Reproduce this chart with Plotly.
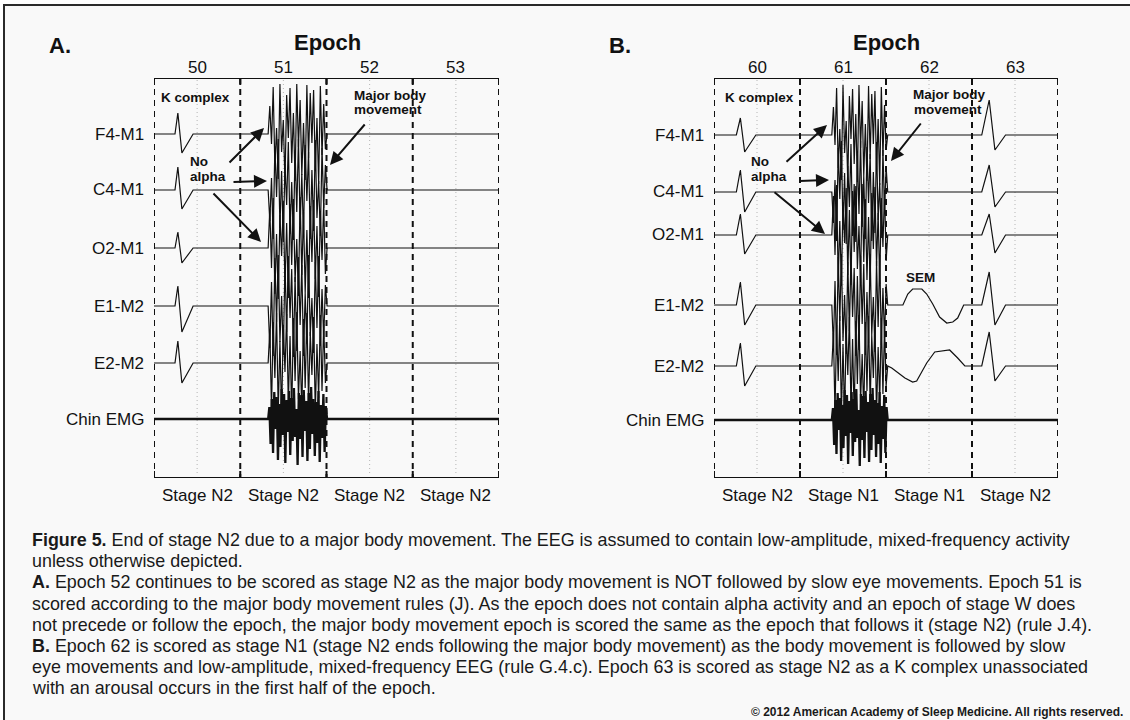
import plotly.graph_objects as go

W, H = 1130, 720

# ---------------------------------------------------------------- data
EPOCH_LEN = 30  # seconds per epoch
EPOCHS_A = ["50", "51", "52", "53"]
EPOCHS_B = ["60", "61", "62", "63"]
STAGES_A = ["Stage N2", "Stage N2", "Stage N2", "Stage N2"]
STAGES_B = ["Stage N2", "Stage N1", "Stage N1", "Stage N2"]
CHANNELS = ["F4-M1", "C4-M1", "O2-M1", "E1-M2", "E2-M2", "Chin EMG"]

# K complex timing (s within the 4-epoch window): onset, peak, trough, return
KC_T_A = [7.3, 8.3, 9.7, 13.6]
KC_T_B1 = [7.8, 9.2, 10.7, 14.6]
KC_T_B2 = [93.4, 96.0, 98.0, 101.7]
# K complex amplitudes (F4, C4, O2, E1, E2)
KC_PEAK_A = [21, 23, 16, 20, 22]
KC_TROUGH_A = [-19, -19, -15, -26, -20]
KC_PEAK_B1 = [17, 22, 21, 23, 23]
KC_TROUGH_B1 = [-17, -20, -19, -20, -20]
KC_PEAK_B2 = [35, 27, 21, 33, 34]
KC_TROUGH_B2 = [-15, -15, -18, -20, -15]

# major body movement span (s)
MBM_A = [39.7, 60.2]
MBM_B = [41.1, 60.6]

# movement artefact samples per channel
BURST_F4 = [0, 28, -10, 47, -33, 6, -45, 50, -18, 14, -48, 39, -4, 46, -29, 21, -47, 50, -13, 34,
            -41, 11, -46, 49, -24, 41, -9, 44, -37, 16, -50, 48, -21, 30, -15, 0]
BURST_C4 = [0, -31, 12, -49, 44, -7, 51, -38, 19, -52, 26, -15, 48, -44, 8, -50, 40, -22, 51, -35,
            16, -47, 45, -11, 38, -49, 20, -41, 50, -28, 9, -46, 42, -18, 25, 0]
BURST_O2 = [0, 39, -20, 50, -46, 14, -51, 33, -8, 47, -40, 25, -50, 44, -17, 49, -34, 9, -48, 51,
            -27, 36, -45, 18, -50, 42, -14, 48, -31, 22, -49, 37, -12, 45, -26, 0]
BURST_E1 = [0, -42, 24, -50, 48, -16, 51, -36, 10, -49, 43, -26, 50, -12, 37, -51, 29, -45, 49, -19,
            41, -50, 13, -38, 51, -30, 8, -47, 44, -22, 50, -40, 17, -33, 21, 0]
BURST_E2 = [0, 33, -47, 41, -15, 50, -49, 22, -52, 38, -9, 49, -42, 27, -51, 45, -18, 51, -36, 12,
            -48, 44, -25, 50, -40, 31, -12, 46, -50, 19, -35, 48, -28, 39, -20, 0]
BURST_CHIN = [0, 12, -25, 20, -34, 27, -10, 22, -41, 15, -28, 30, -16, 25, -44, 19, -13, 28, -36, 21,
              -22, 31, -18, 10, -46, 26, -20, 24, -38, 29, -12, 18, -42, 26, -30, 32, -15, 20, -37, 17,
              -24, 28, -43, 14, -19, 25, -33, 13, 0]
BURSTS = [BURST_F4, BURST_C4, BURST_O2, BURST_E1, BURST_E2]

# slow eye movements in epoch 62 (panel B)
SEM_E1_T = [61.0, 65.9, 67.6, 69.3, 72.5, 74.2, 76.3, 78.7, 81.2, 83.3, 85.0, 86.4, 87.1]
SEM_E1_V = [0, 0, 11, 16, 16, 11, 1, -12, -18, -17, -13, -3, 0]
SEM_E2_T = [62.0, 66.6, 69.3, 70.7, 74.2, 77.0, 82.2, 85.0, 87.5]
SEM_E2_V = [-2, -12, -16, -15, 3, 14, 16, 8, 0]

# ---------------------------------------------------------------- layout config
FONT = "Liberation Sans, Arial, Helvetica, sans-serif"
INK = "#111111"
TOP_PX, BOT_PX = 78, 478
PANEL_A = dict(x0=154, x1=499, xa="x", ya="y", offsets=[-56, -112, -170, -228, -285, -341])
PANEL_B = dict(x0=714, x1=1058, xa="x2", ya="y2", offsets=[-57, -114, -157, -227, -288, -342])
TOTAL = EPOCH_LEN * 4


def px(xp, yp):
    return xp / W, 1 - yp / H


def t2px(panel, t):
    return panel["x0"] + t * (panel["x1"] - panel["x0"]) / TOTAL


def label(xp, yp, text, size, anchor="center", color=INK):
    x, y = px(xp, yp)
    return dict(xref="paper", yref="paper", x=x, y=y, text=text, showarrow=False,
                xanchor=anchor, yanchor="middle", font=dict(size=size, color=color))


def kc(times, peak, trough):
    return list(times), [0, peak, trough, 0]


def burst(span, vals):
    n = len(vals)
    step = (span[1] - span[0]) / (n - 1)
    return [span[0] + i * step for i in range(n)], list(vals)


def join(segments):
    t, v = [0], [0]
    for st, sv in segments:
        t += st
        v += sv
    t.append(TOTAL)
    v.append(0)
    return t, v


fig = go.Figure()

signals_A = []
for i in range(5):
    signals_A.append(join([kc(KC_T_A, KC_PEAK_A[i], KC_TROUGH_A[i]), burst(MBM_A, BURSTS[i])]))
signals_A.append(join([burst(MBM_A, BURST_CHIN)]))

signals_B = []
for i in range(5):
    segs = [kc(KC_T_B1, KC_PEAK_B1[i], KC_TROUGH_B1[i]), burst(MBM_B, BURSTS[i])]
    if i == 3:
        segs.append((SEM_E1_T, SEM_E1_V))
    if i == 4:
        segs.append((SEM_E2_T, SEM_E2_V))
    segs.append(kc(KC_T_B2, KC_PEAK_B2[i], KC_TROUGH_B2[i]))
    signals_B.append(join(segs))
signals_B.append(join([burst(MBM_B, BURST_CHIN)]))

for panel, sigs in ((PANEL_A, signals_A), (PANEL_B, signals_B)):
    for ch, (t, v), off in zip(CHANNELS, sigs, panel["offsets"]):
        fig.add_trace(go.Scatter(
            x=t, y=[off + val for val in v], mode="lines", name=ch,
            line=dict(color=INK, width=2.3 if ch == "Chin EMG" else 1.2),
            xaxis=panel["xa"], yaxis=panel["ya"], hoverinfo="skip", showlegend=False))

shapes, annotations = [], []
bounds = [EPOCH_LEN * k for k in range(5)]
mids = [EPOCH_LEN * k + EPOCH_LEN / 2 for k in range(4)]

for panel, epochs, stages, letter in ((PANEL_A, EPOCHS_A, STAGES_A, "A."),
                                      (PANEL_B, EPOCHS_B, STAGES_B, "B.")):
    xr, yr = panel["xa"], panel["ya"]
    for m in mids:
        shapes.append(dict(type="line", xref=xr, yref=yr, x0=m, x1=m, y0=-2, y1=-398,
                           line=dict(color="#b5b5b5", width=1, dash="1px,3px"), layer="below"))
    for b in bounds:
        shapes.append(dict(type="line", xref=xr, yref=yr, x0=b, x1=b, y0=0, y1=-400,
                           line=dict(color=INK, width=2, dash="6px,5px")))
        shapes.append(dict(type="line", xref=xr, yref=yr, x0=b, x1=b, y0=0, y1=-7,
                           line=dict(color=INK, width=2)))
        shapes.append(dict(type="line", xref=xr, yref=yr, x0=b, x1=b, y0=-393, y1=-400,
                           line=dict(color=INK, width=2)))
    for yv in (0, -400):
        shapes.append(dict(type="line", xref=xr, yref=yr, x0=0, x1=TOTAL, y0=yv, y1=yv,
                           line=dict(color=INK, width=2)))
    for m, e, s in zip(mids, epochs, stages):
        annotations.append(label(t2px(panel, m), 67, e, 17))
        annotations.append(label(t2px(panel, m), 495, s, 17))
    for ch, off in zip(CHANNELS, panel["offsets"]):
        annotations.append(label(panel["x0"] - 8, TOP_PX - off, ch, 17, anchor="right"))
    annotations.append(label((panel["x0"] + panel["x1"]) / 2 + 0.5, 42, "<b>Epoch</b>", 22))
    annotations.append(label(panel["x0"] - 107, 45, f"<b>{letter}</b>", 22, anchor="left"))

# callout texts (pixel positions)
CALLOUTS = [
    ("K complex", 195, 98, "center"), ("No", 188, 162, "left"), ("alpha", 188, 176, "left"),
    ("Major body", 352, 96, "left"), ("movement", 352, 109, "left"),
    ("K complex", 759, 98, "center"), ("No", 749, 162, "left"), ("alpha", 749, 176, "left"),
    ("Major body", 911, 95, "left"), ("movement", 912, 109, "left"),
    ("SEM", 920, 277, "center"),
]
for txt, xp_, yp_, anc in CALLOUTS:
    annotations.append(label(xp_, yp_, f"<b>{txt}</b>", 13.5, anchor=anc))

# arrows: (tail px, tip px)
ARROWS = [
    ((228, 164), (264, 128)), ((232, 182), (267, 181)), ((212, 192), (261, 242)),
    ((366, 123), (330, 165)),
    ((785, 163), (827, 125)), ((798, 181), (829, 180)), ((773, 191), (825, 234)),
    ((922, 122), (891, 161)),
]
for (tx, ty), (hx, hy) in ARROWS:
    x, y = px(hx, hy)
    annotations.append(dict(xref="paper", yref="paper", x=x, y=y, text="", showarrow=True,
                            ax=tx - hx, ay=ty - hy, arrowhead=2, arrowsize=1.3,
                            arrowwidth=2, arrowcolor=INK, standoff=0, startstandoff=0))

CAPTION = [
    "<b>Figure 5.</b> End of stage N2 due to a major body movement. The EEG is assumed to contain low-amplitude, mixed-frequency activity",
    "unless otherwise depicted.",
    "<b>A.</b> Epoch 52 continues to be scored as stage N2 as the major body movement is NOT followed by slow eye movements. Epoch 51 is",
    "scored according to the major body movement rules (J). As the epoch does not contain alpha activity and an epoch of stage W does",
    "not precede or follow the epoch, the major body movement epoch is scored the same as the epoch that follows it (stage N2) (rule J.4).",
    "<b>B.</b> Epoch 62 is scored as stage N1 (stage N2 ends following the major body movement) as the body movement is followed by slow",
    "eye movements and low-amplitude, mixed-frequency EEG (rule G.4.c). Epoch 63 is scored as stage N2 as a K complex unassociated",
    "with an arousal occurs in the first half of the epoch.",
]
for k, line in enumerate(CAPTION):
    annotations.append(label(30, 540 + 21.2 * k, line, 17.9, anchor="left", color="#1a1a1a"))
annotations.append(label(1125, 712, "<b>© 2012 American Academy of Sleep Medicine. All rights reserved.</b>",
                         12, anchor="right", color="#1a1a1a"))

# outer frame
fx0, fy0 = px(4, 5)
shapes.insert(0, dict(type="rect", xref="paper", yref="paper", x0=fx0, y0=fy0, x1=1.02, y1=-0.02,
                      line=dict(color="#2a2a2a", width=2), fillcolor="#f9f9f9", layer="below"))

ydom = [1 - BOT_PX / H, 1 - TOP_PX / H]
axis_off = dict(visible=False, showgrid=False, zeroline=False, fixedrange=True)
fig.update_layout(
    width=W, height=H, margin=dict(l=0, r=0, t=0, b=0),
    paper_bgcolor="white", plot_bgcolor="rgba(0,0,0,0)",
    font=dict(family=FONT, color=INK),
    xaxis=dict(domain=[PANEL_A["x0"] / W, PANEL_A["x1"] / W], range=[0, TOTAL], **axis_off),
    yaxis=dict(domain=ydom, range=[-400, 0], **axis_off),
    xaxis2=dict(domain=[PANEL_B["x0"] / W, PANEL_B["x1"] / W], range=[0, TOTAL], anchor="y2", **axis_off),
    yaxis2=dict(domain=ydom, range=[-400, 0], anchor="x2", **axis_off),
    shapes=shapes, annotations=annotations, showlegend=False,
)
fig.write_html("out.html", config={"displayModeBar": False},
               post_script="document.body.style.margin='0px';document.body.style.overflow='hidden';")
